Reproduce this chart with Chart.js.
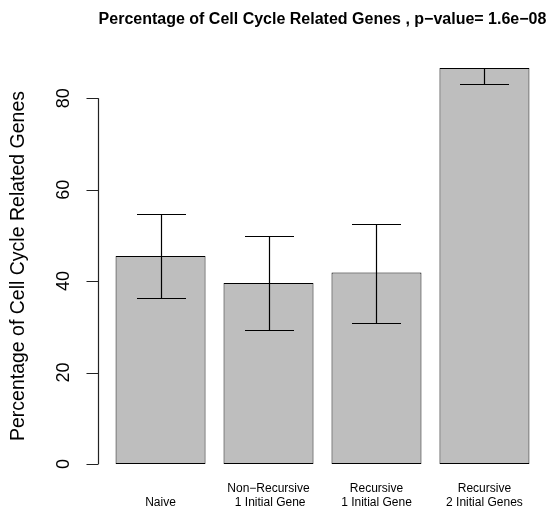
<!DOCTYPE html>
<html>
<head>
<meta charset="utf-8">
<script src="https://cdn.jsdelivr.net/npm/chart.js@4.4.1/dist/chart.umd.min.js"></script>
<style>
  body { margin: 0; background: #fff; }
  canvas { display: block; }
</style>
</head>
<body>
<canvas id="myChart" width="548" height="511"></canvas>
<script>
// bar groups (two-line names), mean percentage and error bar ends
const groups = [
    ['', 'Naive'],
    ['Non\u2212Recursive', ' 1 Initial Gene'],
    ['Recursive', '1 Initial Gene'],
    ['Recursive', '2 Initial Genes'],
];
const pct = [45.5, 39.6, 41.9, 86.6];
const errLow = [36.3, 29.4, 30.9, 83.2];
const errHigh = [54.6, 49.8, 52.5, 90.0];
const yTicks = [0, 20, 40, 60, 80];
const mainTitle = 'Percentage of Cell Cycle Related Genes , p\u2212value= 1.6e\u221208';
const yTitle = 'Percentage of Cell Cycle Related Genes';

const FONT = '"Liberation Sans", Arial, Helvetica, sans-serif';

// base-graphics style axes, labels and error bars
const rStyle = {
    id: 'rStyle',
    afterDatasetsDraw(chart) {
        const { ctx, chartArea, scales: { x, y } } = chart;

        // error bars are clipped to the plot region
        ctx.save();
        ctx.beginPath();
        ctx.rect(chartArea.left, chartArea.top, chartArea.width, chartArea.height);
        ctx.clip();
        ctx.strokeStyle = '#000';
        ctx.lineWidth = 1.2;
        const cap = 24.5;
        pct.forEach((v, i) => {
            const cx = Math.round(x.getPixelForValue(i)) + 0.5;
            const lo = Math.round(y.getPixelForValue(errLow[i])) + 0.5;
            const hi = Math.round(y.getPixelForValue(errHigh[i])) + 0.5;
            ctx.beginPath();
            ctx.moveTo(cx, lo); ctx.lineTo(cx, hi);
            ctx.moveTo(cx - cap, lo); ctx.lineTo(cx + cap, lo);
            ctx.moveTo(cx - cap, hi); ctx.lineTo(cx + cap, hi);
            ctx.stroke();
        });
        ctx.restore();

        // y axis: line from first to last tick
        ctx.save();
        const ax = Math.round(chartArea.left) - 0.5;
        ctx.strokeStyle = '#222';
        ctx.lineWidth = 1.2;
        ctx.beginPath();
        ctx.moveTo(ax, y.getPixelForValue(yTicks[0]));
        ctx.lineTo(ax, y.getPixelForValue(yTicks[yTicks.length - 1]));
        yTicks.forEach(t => {
            const py = Math.round(y.getPixelForValue(t)) + 0.5;
            ctx.moveTo(ax, py);
            ctx.lineTo(ax - 12, py);
        });
        ctx.stroke();

        ctx.fillStyle = '#000';
        ctx.font = '18px ' + FONT;
        ctx.textAlign = 'center';
        ctx.textBaseline = 'middle';
        yTicks.forEach(t => {
            ctx.save();
            ctx.translate(ax - 34, y.getPixelForValue(t));
            ctx.rotate(-Math.PI / 2);
            ctx.fillText(String(t), 0, 0);
            ctx.restore();
        });

        // y axis title
        ctx.save();
        ctx.font = '19.5px ' + FONT;
        ctx.translate(19, (chartArea.top + chartArea.bottom) / 2);
        ctx.rotate(-Math.PI / 2);
        ctx.fillText(yTitle, 0, 0);
        ctx.restore();

        // group names under the bars
        ctx.font = '12px ' + FONT;
        groups.forEach((lines, i) => {
            const cx = x.getPixelForValue(i);
            lines.forEach((s, k) => ctx.fillText(s, cx, 489 + k * 14));
        });

        // main title
        ctx.font = 'bold 16px ' + FONT;
        ctx.fillText(mainTitle, (chartArea.left + chartArea.right) / 2, 20);
        ctx.restore();
    }
};

new Chart('myChart', {
    type: 'bar',
    data: {
        datasets: [{
            data: pct.map((v, i) => ({ x: i, y: v })),
            backgroundColor: '#bebebe',
            borderColor: '#000',
            borderWidth: 1,
            borderSkipped: false,
            barPercentage: 1 / 1.2,
            categoryPercentage: 1,
        }]
    },
    options: {
        responsive: false,
        animation: false,
        layout: { padding: { left: 99, right: 2, top: 68, bottom: 47 } },
        plugins: { legend: { display: false }, tooltip: { enabled: false } },
        scales: {
            x: {
                type: 'linear', display: false, min: -0.57, max: 3.57, offset: false,
                // one tick per bar so the bar width follows the bar spacing
                afterBuildTicks: (scale) => { scale.ticks = pct.map((v, i) => ({ value: i })); }
            },
            y: { display: false, min: 0, max: Math.max(...pct) },
        }
    },
    plugins: [rStyle]
});
</script>
</body>
</html>
